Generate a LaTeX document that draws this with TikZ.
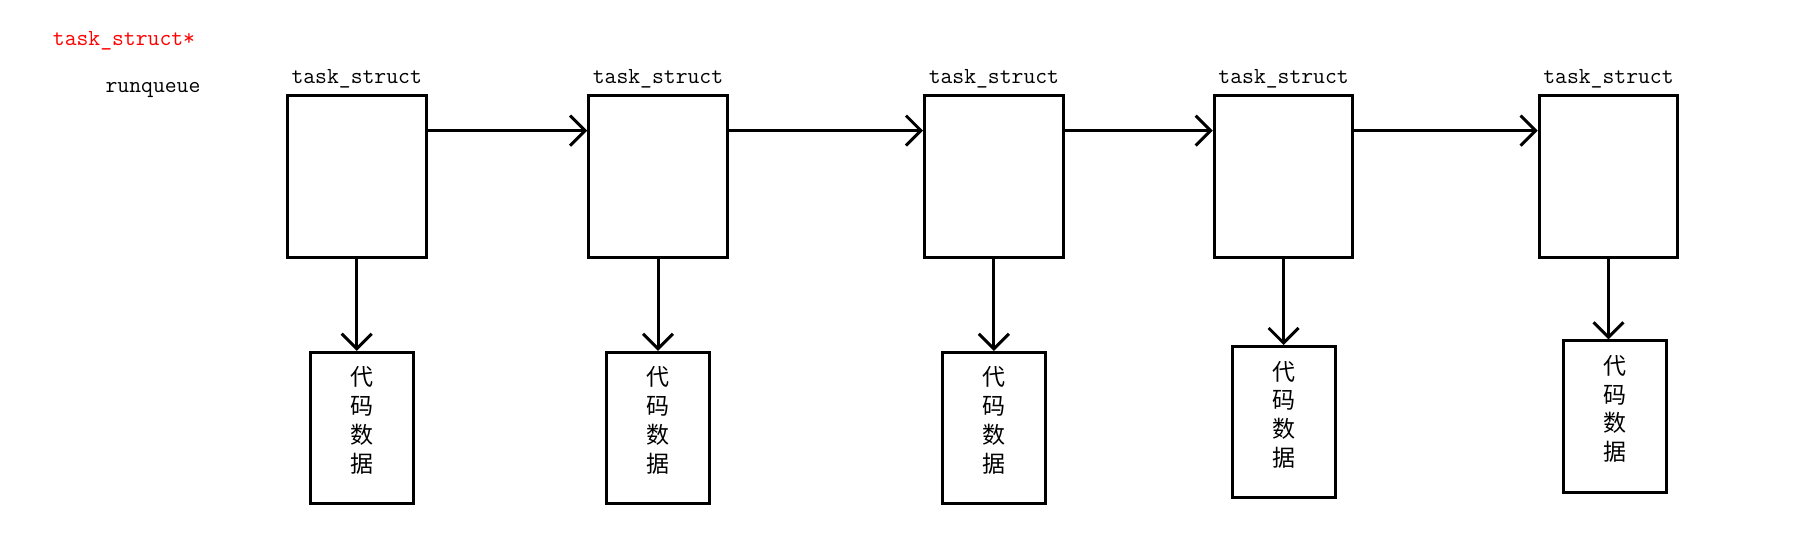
\documentclass[tikz,border=0pt]{standalone}
\usepackage{fontspec}
\newfontfamily\cjk{Noto Sans CJK SC}
\usetikzlibrary{arrows.meta}
\begin{document}
\begin{tikzpicture}[x=0.5pt,y=-0.5pt,
  taskbox/.style={draw,line width=1.5pt,minimum width=69.3pt,minimum height=80.8pt,inner sep=0pt},
  codebox/.style={draw,line width=1.5pt,minimum width=51.5pt,minimum height=75.6pt,inner sep=0pt,
    anchor=north,align=center,text depth=8.5pt,font=\cjk\fontsize{11.5}{14.4}\selectfont},
  tslabel/.style={font=\ttfamily\fontsize{11.5}{14}\selectfont},
  link/.style={line width=1.5pt,-{Straight Barb[length=7.5pt,width=15pt,line width=1.5pt]}}]
\useasboundingbox (0,0) rectangle (1810,554);
\node[tslabel,text=red] (ptr) at (124,41) {task\_struct*};
\node[tslabel] (rq) at (153,90) {runqueue};
\node[taskbox] (T1) at (356.7,176.6) {};
\node[taskbox] (T2) at (658,176.6) {};
\node[taskbox] (T3) at (993.9,176.6) {};
\node[taskbox] (T4) at (1283.6,176.6) {};
\node[taskbox] (T5) at (1608.5,176.6) {};
\node[tslabel] (L1) at (356.7,78.5) {task\_struct};
\node[tslabel] (L2) at (658,78.5) {task\_struct};
\node[tslabel] (L3) at (993.9,78.5) {task\_struct};
\node[tslabel] (L4) at (1283.6,78.5) {task\_struct};
\node[tslabel] (L5) at (1608.5,78.5) {task\_struct};
\node[codebox] (C1) at (361.9,350.9) {代\\码\\数\\据};
\node[codebox] (C2) at (658,350.9) {代\\码\\数\\据};
\node[codebox] (C3) at (993.9,350.9) {代\\码\\数\\据};
\node[codebox] (C4) at (1283.6,345.1) {代\\码\\数\\据};
\node[codebox] (C5) at (1614.8,339.4) {代\\码\\数\\据};
\draw[link] ([yshift=23pt]T1.east) -- ([yshift=23pt]T2.west);
\draw[link] ([yshift=23pt]T2.east) -- ([yshift=23pt]T3.west);
\draw[link] ([yshift=23pt]T3.east) -- ([yshift=23pt]T4.west);
\draw[link] ([yshift=23pt]T4.east) -- ([yshift=23pt]T5.west);
\draw[link] (T1.south) -- (T1.south |- C1.north);
\draw[link] (T2.south) -- (T2.south |- C2.north);
\draw[link] (T3.south) -- (T3.south |- C3.north);
\draw[link] (T4.south) -- (T4.south |- C4.north);
\draw[link] (T5.south) -- (T5.south |- C5.north);
\end{tikzpicture}
\end{document}
